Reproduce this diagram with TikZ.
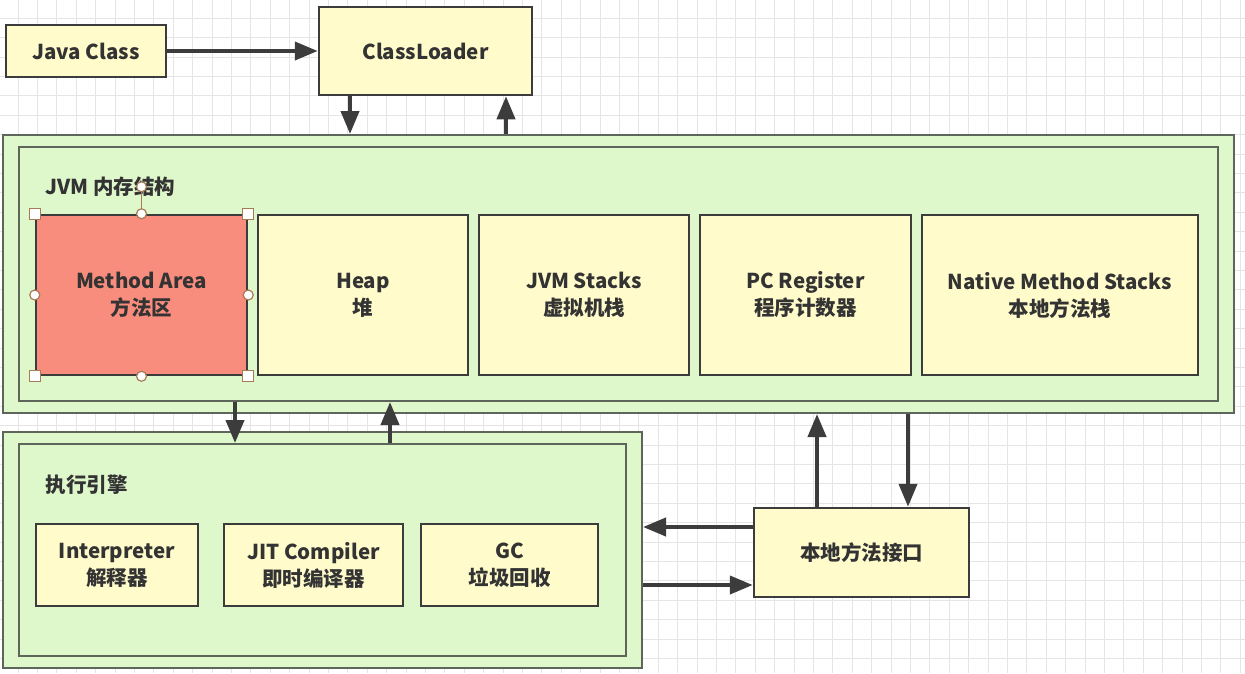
\documentclass[tikz,border=0pt]{standalone}
\usepackage{fontspec}
\setmainfont{Noto Sans CJK SC}
\usetikzlibrary{arrows.meta}

\definecolor{boxyellow}{HTML}{FFFBCB}
\definecolor{areagreen}{HTML}{DEF7CB}
\definecolor{areared}{HTML}{F98D7D}
\definecolor{boxline}{HTML}{3C3C3C}
\definecolor{arealine}{HTML}{5E655A}
\definecolor{textgray}{HTML}{333333}
\definecolor{handlebrown}{HTML}{A77B55}

\begin{document}
\begin{tikzpicture}[x=1pt,y=-1pt,
		every node/.style={font=\fontsize{20.5}{27}\selectfont\bfseries,text=textgray},
		box/.style={draw=boxline,line width=2.5pt,fill=boxyellow,align=center,inner sep=0pt},
		area/.style={draw=arealine,line width=2pt,fill=areagreen,inner sep=0pt},
		arr/.style={draw=boxline,line width=4pt,-{Triangle[length=23pt,width=18pt]}},
		gridline/.style={draw=black!10,line width=1pt},
		handlesq/.style={draw=handlebrown,fill=white,line width=1.2pt,minimum size=11pt,inner sep=0pt},
		handlecirc/.style={circle,draw=handlebrown,fill=white,line width=1.2pt,minimum size=10pt,inner sep=0pt}]
		\useasboundingbox (0,0) rectangle (1245,673);
		\fill[white] (0,0) rectangle (1245,673);

		% Background grid
		\foreach \i in {0,...,64} {
			\draw[gridline] ({18+19.4*\i},0) -- ({18+19.4*\i},673);
		}
		\foreach \j in {0,...,34} {
			\draw[gridline] (0,{18.2+19.4*\j}) -- (1245,{18.2+19.4*\j});
		}

		% Class loading
		\node[box,minimum width=160,minimum height=52]  (javaclass)   at (86,51)    {Java Class};
		\node[box,minimum width=213,minimum height=88]  (classloader) at (425.5,51) {ClassLoader};

		% JVM memory areas
		\node[area,minimum width=1231,minimum height=278] (jvm)   at (618.5,274) {};
		\node[area,minimum width=1199,minimum height=254] (jvmin) at (618.5,274) {};
		\node[anchor=west] (jvmlabel) at (42,187) {JVM 内存结构};

		\node[box,fill=areared,minimum width=211,minimum height=160] (method) at (141.5,295) {Method Area\\方法区};
		\node[box,minimum width=210,minimum height=160] (heap)   at (363,295)    {Heap\\堆};
		\node[box,minimum width=210,minimum height=160] (stacks) at (584,295)    {JVM Stacks\\虚拟机栈};
		\node[box,minimum width=211,minimum height=160] (pcreg)  at (805.5,295)  {PC Register\\程序计数器};
		\node[box,minimum width=276,minimum height=160] (native) at (1060,295)   {Native Method Stacks\\本地方法栈};

		% Selection handles on the method area
		\draw[handlebrown,line width=1.2pt] (method.north) -- ++(0,-27) coordinate (rot);
		\node[handlecirc] (hrot) at (rot) {};
		\foreach \a in {north west,north east,south west,south east} {
			\node[handlesq] (hs-\a) at (method.\a) {};
		}
		\foreach \a in {north,south,west,east} {
			\node[handlecirc] (hc-\a) at (method.\a) {};
		}

		% Execution engine
		\node[area,minimum width=639,minimum height=236] (exec)   at (322.5,550) {};
		\node[area,minimum width=607,minimum height=212] (execin) at (322.5,550) {};
		\node[anchor=west] (execlabel) at (42,485) {执行引擎};

		\node[box,minimum width=162,minimum height=82] (interp) at (117,565)   {Interpreter\\解释器};
		\node[box,minimum width=179,minimum height=82] (jit)    at (313.5,565) {JIT Compiler\\即时编译器};
		\node[box,minimum width=177,minimum height=82] (gc)     at (509.5,565) {GC\\垃圾回收};

		% Native interface
		\node[box,minimum width=215,minimum height=89] (jni) at (861.5,552.5) {本地方法接口};

		% Connectors
		\coordinate (cldown) at (350,0);
		\coordinate (clup)   at (506,0);
		\coordinate (exdown) at (235,0);
		\coordinate (exup)   at (390,0);
		\coordinate (niup)   at (817,0);
		\coordinate (nidown) at (908,0);
		\coordinate (nileft) at (0,527);
		\coordinate (niright) at (0,585);

		\draw[arr] (javaclass) -- (classloader);
		\draw[arr] (cldown |- classloader.south) -- (cldown |- jvm.north);
		\draw[arr] (clup |- jvm.north) -- (clup |- classloader.south);
		\draw[arr] (exdown |- jvmin.south) -- (exdown |- execin.north);
		\draw[arr] (exup |- execin.north) -- (exup |- jvmin.south);
		\draw[arr] (niup |- jni.north) -- (niup |- jvm.south);
		\draw[arr] (nidown |- jvm.south) -- (nidown |- jni.north);
		\draw[arr] (nileft -| jni.west) -- (nileft -| exec.east);
		\draw[arr] (niright -| exec.east) -- (niright -| jni.west);
	\end{tikzpicture}
\end{document}
